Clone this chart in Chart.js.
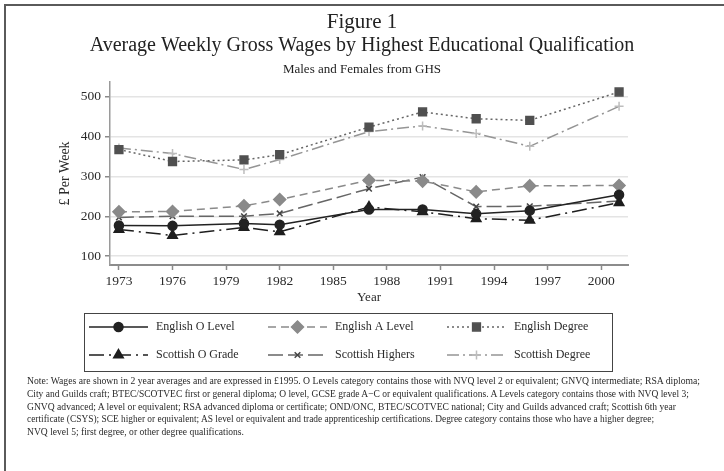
<!DOCTYPE html>
<html>
<head>
<meta charset="utf-8">
<script src="https://cdn.jsdelivr.net/npm/chart.js@4.4.1/dist/chart.umd.min.js"></script>
<style>
html, body { margin: 0; padding: 0; background: #fff; }
#wrap { position: relative; width: 724px; height: 471px; overflow: hidden; background: #fff; }
#frame { position: absolute; left: 4px; top: 4px; width: 720px; height: 467px; border-left: 2px solid #5a5a5a; border-top: 2px solid #5a5a5a; }
#chart { position: absolute; left: 0; top: 0; }
#note { position: absolute; left: 27px; top: 374px; font-family: 'Liberation Serif', serif; font-size: 11px; line-height: 12.8px; color: #2a2a2a; white-space: nowrap; }
#note span { display: block; transform-origin: 0 0; width: max-content; }
</style>
</head>
<body>
<div id="wrap">
  <div id="frame"></div>
  <canvas id="chart" width="724" height="471"></canvas>
  <div id="note">
    <span data-end="700">Note: Wages are shown in 2 year averages and are expressed in £1995. O Levels category contains those with NVQ level 2 or equivalent; GNVQ intermediate; RSA diploma;</span>
    <span data-end="689">City and Guilds craft; BTEC/SCOTVEC first or general diploma; O level, GCSE grade A−C or equivalent qualifications. A Levels category contains those with NVQ level 3;</span>
    <span data-end="676">GNVQ advanced; A level or equivalent; RSA advanced diploma or certificate; OND/ONC, BTEC/SCOTVEC national; City and Guilds advanced craft; Scottish 6th year</span>
    <span data-end="654">certificate (CSYS); SCE higher or equivalent; AS level or equivalent and trade apprenticeship certifications. Degree category contains those who have a higher degree;</span>
    <span data-end="244">NVQ level 5; first degree, or other degree qualifications.</span>
  </div>
</div>
<script>
// values (£ per week, 1995 prices)
const years = [1973, 1976, 1980, 1982, 1987, 1990, 1993, 1996, 2001];
const engOLevel = [177, 176, 182, 179, 217, 217, 206, 214, 254];
const engALevel = [211, 212, 226, 242, 290, 288, 261, 276, 277];
const engDegree = [367, 337, 341, 354, 423, 461, 444, 440, 511];
const scoOGrade = [167, 152, 172, 161, 223, 211, 194, 190, 234];
const scoHighers = [197, 200, 200, 207, 269, 298, 224, 225, 238];
const scoDegree = [371, 357, 317, 342, 412, 426, 407, 375, 475];

const yearTicks = [1973, 1976, 1979, 1982, 1985, 1988, 1991, 1994, 1997, 2000];
const wageTicks = [100, 200, 300, 400, 500];

const serif = "'Liberation Serif', 'Times New Roman', serif";

function toPoints(values) {
    return years.map((yr, i) => ({ x: yr, y: values[i] }));
}

function series(label, values, color, dash, style, radius, fill, edge) {
    return {
        label: label,
        data: toPoints(values),
        borderColor: color,
        borderWidth: 1.5,
        borderDash: dash,
        pointStyle: style,
        pointRadius: radius,
        pointBackgroundColor: fill,
        pointBorderColor: edge || fill,
        pointBorderWidth: 1.5,
        fill: false,
        tension: 0
    };
}

const datasets = [
    series('English O Level', engOLevel, '#222222', [], 'circle', 4.5, '#222222'),
    series('English A Level', engALevel, '#8a8a8a', [8, 5], 'rectRot', 6, '#8a8a8a'),
    series('English Degree', engDegree, '#666666', [2, 3], 'rect', 5.5, '#505050'),
    series('Scottish O Grade', scoOGrade, '#1e1e1e', [15, 5, 2, 5], 'triangle', 5.5, '#1e1e1e'),
    series('Scottish Highers', scoHighers, '#666666', [15, 5], 'crossRot', 4, '#444444'),
    series('Scottish Degree', scoDegree, '#959595', [12, 4, 2, 4], 'cross', 4.5, '#bdbdbd')
];

const headingPlugin = {
    id: 'heading',
    afterDraw(chart) {
        const ctx = chart.ctx;
        ctx.save();
        ctx.fillStyle = '#222';
        ctx.textAlign = 'center';
        ctx.textBaseline = 'middle';
        ctx.font = '21px ' + serif;
        ctx.fillText('Figure 1', 362, 22);
        ctx.font = '20px ' + serif;
        ctx.fillText('Average Weekly Gross Wages by Highest Educational Qualification', 362, 46);
        ctx.font = '13px ' + serif;
        ctx.fillText('Males and Females from GHS', 362, 70);
        ctx.restore();
    }
};

// legend box under the plot: line sample with marker, then label
const legendPlugin = {
    id: 'boxLegend',
    afterDraw(chart) {
        const ctx = chart.ctx;
        const box = { left: 84, top: 313, right: 612, bottom: 371 };
        const lineStarts = [89, 268, 447];
        const lineLen = 59;
        const rows = [327, 355];
        ctx.save();
        ctx.strokeStyle = '#444';
        ctx.lineWidth = 1;
        ctx.strokeRect(box.left + 0.5, box.top + 0.5, box.right - box.left, box.bottom - box.top);
        chart.data.datasets.forEach((ds, i) => {
            const x0 = lineStarts[i % 3];
            const y = rows[Math.floor(i / 3)];
            ctx.setLineDash(ds.borderDash);
            ctx.strokeStyle = ds.borderColor;
            ctx.lineWidth = ds.borderWidth;
            ctx.beginPath();
            ctx.moveTo(x0, y);
            ctx.lineTo(x0 + lineLen, y);
            ctx.stroke();
            ctx.setLineDash([]);
            ctx.fillStyle = ds.pointBackgroundColor;
            ctx.strokeStyle = ds.pointBorderColor;
            ctx.lineWidth = ds.pointBorderWidth;
            Chart.helpers.drawPoint(ctx, { pointStyle: ds.pointStyle, radius: ds.pointRadius, borderWidth: ds.pointBorderWidth, rotation: 0 }, x0 + lineLen / 2, y);
            ctx.fillStyle = '#2a2a2a';
            ctx.font = '12px ' + serif;
            ctx.textAlign = 'left';
            ctx.textBaseline = 'middle';
            ctx.fillText(ds.label, x0 + lineLen + 8, y);
        });
        ctx.restore();
    }
};

new Chart(document.getElementById('chart'), {
    type: 'line',
    data: { datasets: datasets },
    options: {
        responsive: false,
        animation: false,
        devicePixelRatio: 1,
        layout: { padding: { left: 20, right: 96, top: 82, bottom: 166 } },
        plugins: {
            legend: { display: false },
            tooltip: { enabled: false },
            title: { display: false }
        },
        scales: {
            x: {
                type: 'linear',
                min: 1972.5,
                max: 2001.5,
                afterBuildTicks: s => { s.ticks = yearTicks.map(v => ({ value: v })); },
                afterFit: s => { s.height = 40; },
                grid: { drawOnChartArea: false, tickLength: 5, tickColor: '#8a8a8a', tickWidth: 1.5 },
                border: { color: '#8c8c8c', width: 2 },
                ticks: {
                    autoSkip: false,
                    maxRotation: 0,
                    padding: 3,
                    color: '#2a2a2a',
                    font: { family: serif, size: 13.5 },
                    callback: v => String(v)
                },
                title: {
                    display: true,
                    text: 'Year',
                    color: '#2a2a2a',
                    font: { family: serif, size: 13 },
                    padding: { top: 0, bottom: 0 }
                }
            },
            y: {
                min: 78,
                max: 536,
                afterBuildTicks: s => { s.ticks = wageTicks.map(v => ({ value: v })); },
                afterFit: s => { s.width = 90; },
                grid: { color: '#e4e4e4', lineWidth: 1.5, tickLength: 5, tickColor: '#8a8a8a', tickWidth: 1.5 },
                border: { color: '#9a9a9a', width: 1.5 },
                ticks: {
                    padding: 4,
                    color: '#2a2a2a',
                    font: { family: serif, size: 13.5 },
                    callback: v => String(v)
                },
                title: {
                    display: true,
                    text: '£ Per Week',
                    color: '#2a2a2a',
                    font: { family: serif, size: 14 },
                    padding: { top: 37, bottom: 0 }
                }
            }
        }
    },
    plugins: [headingPlugin, legendPlugin]
});

// squeeze each note line to the width it has in the original
document.querySelectorAll('#note span').forEach(span => {
    const target = parseFloat(span.dataset.end) - 27;
    const w = span.getBoundingClientRect().width;
    if (w > 0) span.style.transform = 'scaleX(' + (target / w).toFixed(4) + ')';
});
</script>
</body>
</html>
